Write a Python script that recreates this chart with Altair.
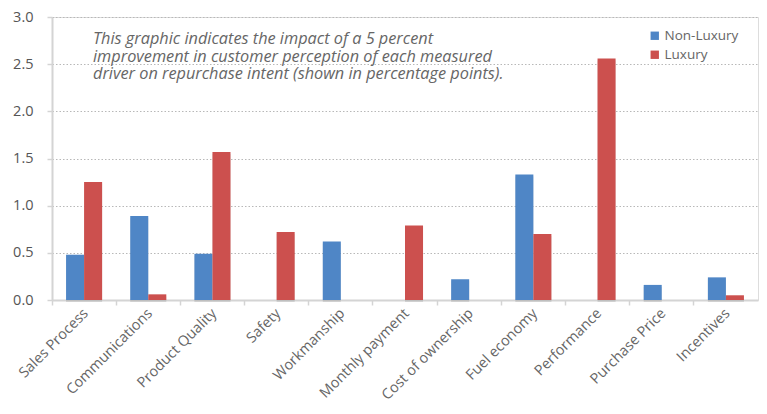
import altair as alt
import pandas as pd

categories = ["Sales Process", "Communications", "Product Quality", "Safety", "Workmanship",
              "Monthly payment", "Cost of ownership", "Fuel economy", "Performance",
              "Purchase Price", "Incentives"]
non_luxury = [0.48, 0.89, 0.49, 0.0, 0.62, 0.0, 0.22, 1.33, 0.0, 0.16, 0.24]
luxury = [1.25, 0.06, 1.57, 0.72, 0.0, 0.79, 0.0, 0.70, 2.56, 0.0, 0.05]
series = ["Non-Luxury", "Luxury"]
colors = ["#4F86C6", "#CC504E"]
y_ticks = [0.0, 0.5, 1.0, 1.5, 2.0, 2.5, 3.0]
note_lines = ["This graphic indicates the impact of a 5 percent",
              "improvement in customer perception of each measured",
              "driver on repurchase intent (shown in percentage points)."]

rows = []
for i, c in enumerate(categories):
    rows.append({"category": c, "series": series[0], "value": non_luxury[i]})
    rows.append({"category": c, "series": series[1], "value": luxury[i]})
df = pd.DataFrame(rows)

FONT = "Open Sans"
GREY = "#666666"

x_enc = alt.X("category:N", sort=categories,
              scale=alt.Scale(paddingInner=0, paddingOuter=0),
              axis=alt.Axis(title=None, labelAngle=-45, labelAlign="right", labelBaseline="middle",
                            labelOffset=2, bandPosition=0, labelPadding=6,
                            labelFont=FONT, labelFontSize=14.5, labelColor=GREY,
                            domainColor="#d4d4d4", domainWidth=2, tickColor="#d4d4d4",
                            tickWidth=1.5, tickSize=5, grid=False))
xoff_enc = alt.XOffset("series:N", sort=series,
                       scale=alt.Scale(paddingInner=0, paddingOuter=0.78))
y_enc = alt.Y("value:Q", scale=alt.Scale(domain=[0, 3], nice=False),
              axis=alt.Axis(title=None, values=y_ticks, format=".1f",
                            labelFont=FONT, labelFontSize=14.5, labelColor="#555555",
                            labelPadding=14,
                            domainColor="#d4d4d4", domainWidth=2, tickColor="#d4d4d4",
                            tickWidth=1.5, tickSize=5,
                            grid=True, gridColor="#b8b8b8", gridDash=[1.5, 2],
                            gridWidth=1))

shadow = alt.Chart(df).mark_bar(color="#777777", opacity=0.22, xOffset=3, yOffset=2).encode(
    x=x_enc, xOffset=xoff_enc, y=y_enc,
)

bars = alt.Chart(df).mark_bar(stroke=None).encode(
    x=x_enc, xOffset=xoff_enc, y=y_enc,
    color=alt.Color("series:N", sort=series,
                    scale=alt.Scale(domain=series, range=colors),
                    legend=alt.Legend(title=None, orient="none", legendX=596, legendY=12,
                                      symbolType="square", symbolSize=70,
                                      symbolStrokeWidth=0, labelOffset=3,
                                      labelFont=FONT, labelFontSize=13.5, labelColor=GREY,
                                      rowPadding=4)),
)

note_df = pd.DataFrame({"text": [note_lines]})
note = alt.Chart(note_df).mark_text(
    align="left", baseline="alphabetic", font=FONT, fontStyle="italic", fontSize=16.3,
    color="#666666", lineHeight=17.5,
).encode(x=alt.value(41), y=alt.value(27), text="text:N")

chart = alt.layer(shadow, bars, note).properties(
    width=706, height=283,
    autosize=alt.AutoSizeParams(type="none"),
    padding={"left": 44, "top": 9, "right": 1, "bottom": 105},
).configure_view(stroke=None).configure(background="white")

chart.save("out.html", embed_options={"renderer": "svg", "actions": False})
